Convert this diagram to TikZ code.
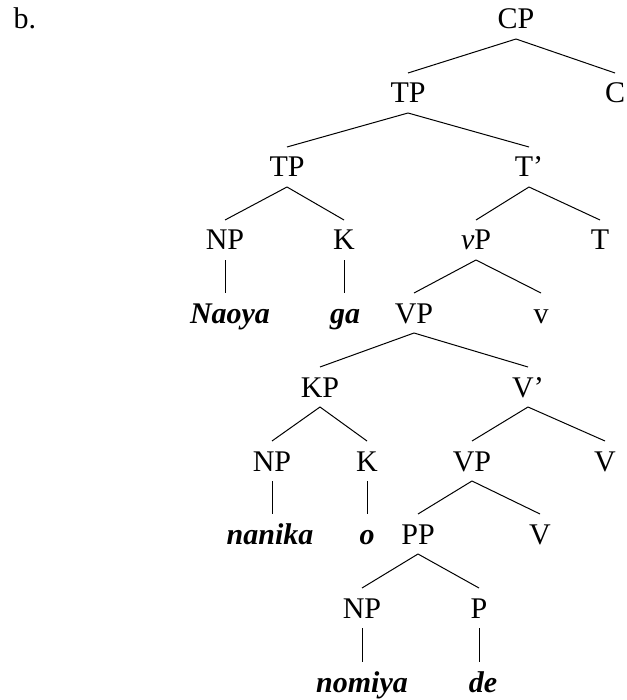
\documentclass[tikz,border=0pt]{standalone}
\usepackage{fontspec}
\setmainfont{Liberation Serif}

\begin{document}
\begin{tikzpicture}[x=1pt,y=1pt,line width=1pt,
  cat/.style={anchor=base,text height=20pt,text depth=0pt,inner sep=0pt,outer sep=10pt},
  word/.style={cat,font=\fontsize{30}{36}\selectfont\bfseries\itshape}]
\useasboundingbox (0,0) rectangle (626,-700);
\fontsize{30}{36}\selectfont
\node[anchor=base west,inner sep=0pt] (lbl) at (13,-29) {b.};
% categories
\node[cat] (cp) at (516,-29) {CP};
\node[cat] (tpa) at (408,-103) {TP};
\node[cat] (c) at (615,-103) {C};
\node[cat] (tpb) at (287,-177) {TP};
\node[cat] (tbar) at (529,-177) {T’};
\node[cat] (npa) at (225,-250) {NP};
\node[cat] (ka) at (344,-250) {K};
\node[cat] (vp) at (476,-250) {\textit{v}P};
\node[cat] (t) at (600,-250) {T};
\node[word] (naoya) at (230,-323) {Naoya};
\node[word] (ga) at (345,-323) {ga};
\node[cat] (vpa) at (414,-323) {VP};
\node[cat] (v) at (541,-323) {v};
\node[cat] (kp) at (320,-397) {KP};
\node[cat] (vbar) at (528,-397) {V’};
\node[cat] (npb) at (272,-471) {NP};
\node[cat] (kb) at (367,-471) {K};
\node[cat] (vpb) at (472,-471) {VP};
\node[cat] (va) at (605,-471) {V};
\node[word] (nanika) at (270,-544) {nanika};
\node[word] (o) at (367,-544) {o};
\node[cat] (pp) at (418,-544) {PP};
\node[cat] (vb) at (540,-544) {V};
\node[cat] (npc) at (362,-618) {NP};
\node[cat] (p) at (479,-618) {P};
\node[word] (nomiya) at (362,-692) {nomiya};
\node[word] (de) at (483,-692) {de};
% branches
\draw (cp.south) -- (tpa.north) (cp.south) -- (c.north);
\draw (tpa.south) -- (tpb.north) (tpa.south) -- (tbar.north);
\draw (tpb.south) -- (npa.north) (tpb.south) -- (ka.north);
\draw (tbar.south) -- (vp.north) (tbar.south) -- (t.north);
\draw (vp.south) -- (vpa.north) (vp.south) -- (v.north);
\draw (vpa.south) -- (kp.north) (vpa.south) -- (vbar.north);
\draw (kp.south) -- (npb.north) (kp.south) -- (kb.north);
\draw (vbar.south) -- (vpb.north) (vbar.south) -- (va.north);
\draw (vpb.south) -- (pp.north) (vpb.south) -- (vb.north);
\draw (pp.south) -- (npc.north) (pp.south) -- (p.north);
% leaves
\draw (npa.south) -- (npa.south |- naoya.north);
\draw (ka.south) -- (ka.south |- ga.north);
\draw (npb.south) -- (npb.south |- nanika.north);
\draw (kb.south) -- (kb.south |- o.north);
\draw (npc.south) -- (npc.south |- nomiya.north);
\draw (p.south) -- (p.south |- de.north);
\end{tikzpicture}
\end{document}
